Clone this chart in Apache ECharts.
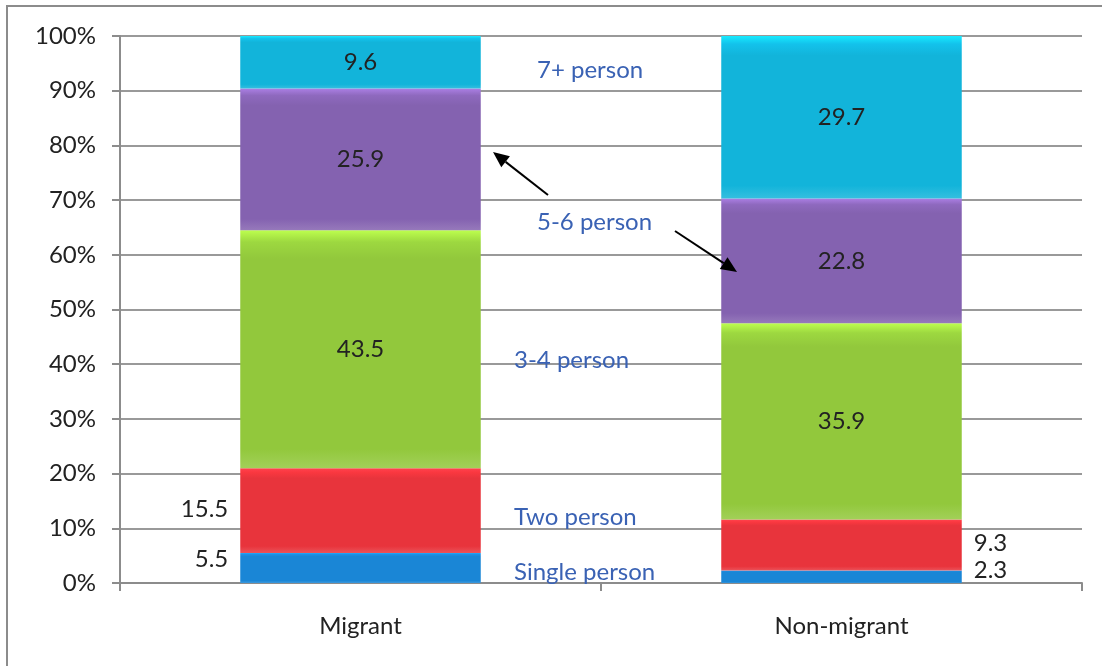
<!DOCTYPE html>
<html>
<head>
<meta charset="utf-8">
<script src="https://cdn.jsdelivr.net/npm/echarts@6/dist/echarts.min.js"></script>
<style>html,body{margin:0;padding:0;background:#fff}#c{width:1102px;height:666px}</style>
</head>
<body>
<div id="c"></div>
<script>
const categories = ['Migrant', 'Non-migrant'];
const seriesNames = ['Single person', 'Two person', '3-4 person', '5-6 person', '7+ person'];
const singlePerson = [5.5, 2.3];
const twoPerson = [15.5, 9.3];
const threeFourPerson = [43.5, 35.9];
const fiveSixPerson = [25.9, 22.8];
const sevenPlusPerson = [9.6, 29.7];
const yTicks = [0, 10, 20, 30, 40, 50, 60, 70, 80, 90, 100];

const colors = ['#1a86d6', '#e8343c', '#92c83c', '#8462b0', '#12b4da'];
const font = 'Lato, "Open Sans", sans-serif';
const fs = 24;
const values = [singlePerson, twoPerson, threeFourPerson, fiveSixPerson, sevenPlusPerson];

function grad(c) {
  return new echarts.graphic.LinearGradient(0, 0, 0, 1, [
    {offset: 0, color: echarts.color.lift(c, -0.3)},
    {offset: 0.05, color: echarts.color.lift(c, -0.08)},
    {offset: 0.12, color: c},
    {offset: 0.92, color: c},
    {offset: 1, color: echarts.color.lift(c, 0.15)}
  ]);
}

const series = values.map((arr, si) => ({
  name: seriesNames[si],
  type: 'bar',
  stack: 'total',
  barWidth: '50%',
  itemStyle: {color: grad(colors[si])},
  label: {show: true, position: 'inside', fontFamily: font, fontSize: fs, color: '#222'},
  data: arr.map((v, ci) => {
    const d = {value: v};
    if (si <= 1) {
      d.label = {
        position: ci === 0 ? 'left' : 'right',
        distance: 12,
        offset: si === 0 ? [0, ci === 0 ? -9 : -6] : [0, ci === 0 ? -1 : -2]
      };
    }
    return d;
  })
}));

const chart = echarts.init(document.getElementById('c'));
chart.setOption({
  animation: false,
  backgroundColor: '#fff',
  grid: {left: 120, right: 20, top: 36, bottom: 83},
  xAxis: {
    type: 'category',
    data: categories,
    axisLine: {lineStyle: {color: '#8c8c8c', width: 2}},
    axisTick: {show: true, length: 8, lineStyle: {color: '#8c8c8c', width: 2}},
    axisLabel: {fontFamily: font, fontSize: fs, color: '#222', margin: 31}
  },
  yAxis: {
    type: 'value',
    min: yTicks[0], max: yTicks[yTicks.length - 1], interval: 10,
    axisLine: {show: true, lineStyle: {color: '#8c8c8c', width: 2}},
    axisTick: {show: true, length: 8, lineStyle: {color: '#8c8c8c', width: 2}},
    splitLine: {lineStyle: {color: '#999', width: 2}},
    axisLabel: {fontFamily: font, fontSize: fs, color: '#222', margin: 24, formatter: v => v + '%'}
  },
  series: series
});

// annotations
const blue = '#3a62b4';
function arrow(x1, y1, x2, y2) {
  const ang = Math.atan2(y2 - y1, x2 - x1);
  const L = 16, W = 7;
  const bx = x2 - L * Math.cos(ang), by = y2 - L * Math.sin(ang);
  const px = -Math.sin(ang) * W, py = Math.cos(ang) * W;
  return [
    {type: 'line', z: 100, shape: {x1: x1, y1: y1, x2: bx, y2: by}, style: {stroke: '#000', lineWidth: 2}},
    {type: 'polygon', z: 100, shape: {points: [[x2, y2], [bx + px, by + py], [bx - px, by - py]]}, style: {fill: '#000'}}
  ];
}
const labelPos = [
  {t: seriesNames[4], x: 537, y: 70},
  {t: seriesNames[3], x: 537, y: 222},
  {t: seriesNames[2], x: 514, y: 360},
  {t: seriesNames[1], x: 514, y: 517},
  {t: seriesNames[0], x: 514, y: 572}
];
const g = [
  {type: 'rect', z: -1, shape: {x: 7, y: 6, width: 1200, height: 1000}, style: {fill: 'none', stroke: '#8c8c8c', lineWidth: 2}}
];
labelPos.forEach(p => g.push({type: 'text', z: 100, x: p.x, y: p.y, style: {text: p.t, fill: blue, font: fs + 'px ' + font, textVerticalAlign: 'middle'}}));
g.push(...arrow(548, 195, 493, 152));
g.push(...arrow(675, 231, 737, 272));
chart.setOption({graphic: g});
</script>
</body>
</html>
